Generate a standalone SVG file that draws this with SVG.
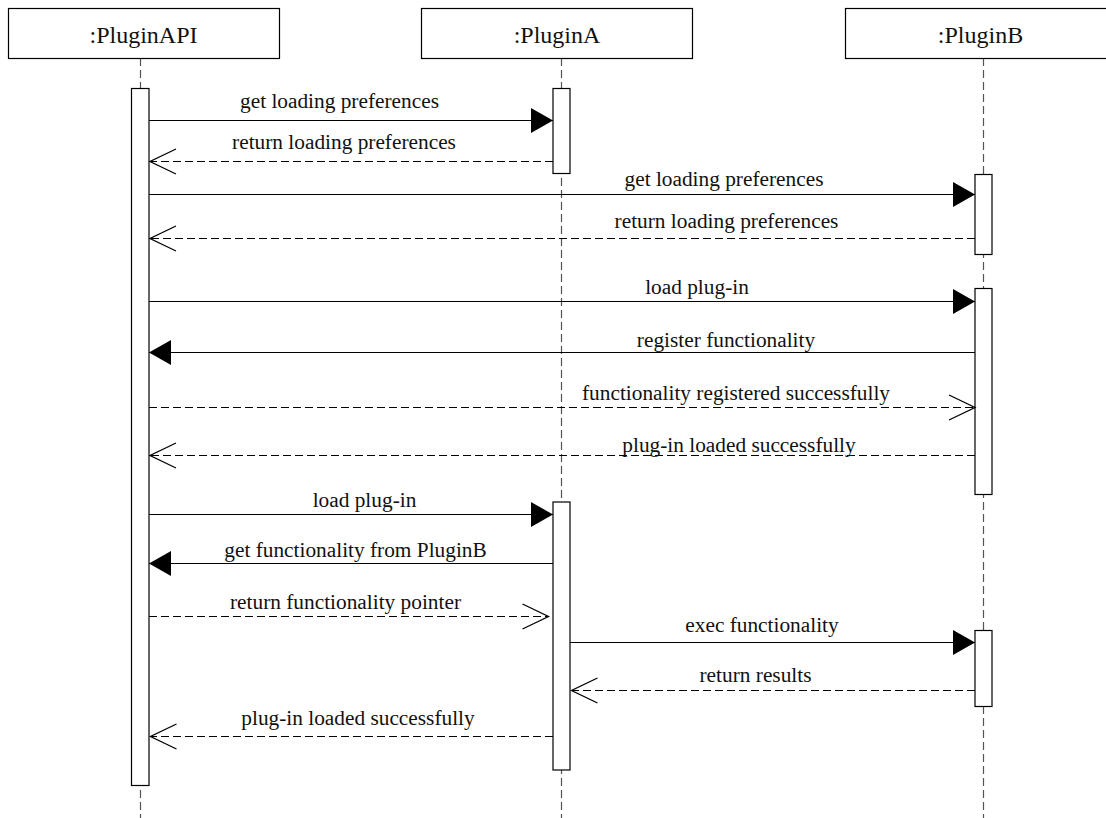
<svg xmlns="http://www.w3.org/2000/svg" width="1106" height="818" viewBox="0 0 1106 818">
<style>
.box{fill:#fff;stroke:#000;stroke-width:1.2}
.life{stroke:#555;stroke-width:1.2;stroke-dasharray:8 4;fill:none}
.bar{fill:#fff;stroke:#000;stroke-width:1.2}
.hdr{font-family:"Liberation Serif","Times New Roman",serif;font-size:24px;fill:#111;text-anchor:middle}
.lbl{font-family:"Liberation Serif","Times New Roman",serif;font-size:21.33px;fill:#111;text-anchor:middle}
.sync{stroke:#000;stroke-width:1.2;fill:none;marker-end:url(#filled)}
.ret{stroke:#000;stroke-width:1.2;fill:none;stroke-dasharray:8 4;marker-end:url(#open)}
</style>
<defs>
<marker id="filled" markerUnits="userSpaceOnUse" markerWidth="24" markerHeight="27" refX="22" refY="12.5" orient="auto" overflow="visible">
<path d="M0,0 L22,12.5 L0,25 Z" fill="#000"/>
</marker>
<marker id="open" markerUnits="userSpaceOnUse" markerWidth="28" markerHeight="27" refX="26" refY="12.5" orient="auto" overflow="visible">
<path d="M0,0 L26,12.5 L0,25" fill="none" stroke="#000" stroke-width="1.3"/>
</marker>
</defs>
<rect width="1106" height="818" fill="#fff"/>
<g id="node-pluginapi">
<line class="life" x1="140.5" y1="58" x2="140.5" y2="818"/>
<rect class="box" x="8.5" y="8.5" width="271" height="50"/>
<text class="hdr" x="143.5" y="43">:PluginAPI</text>
<rect class="bar" x="131.5" y="88.5" width="17.5" height="697"/>
</g>
<g id="node-plugina">
<line class="life" x1="561.5" y1="58" x2="561.5" y2="818"/>
<rect class="box" x="421.5" y="8.5" width="271" height="50"/>
<text class="hdr" x="557" y="43">:PluginA</text>
<rect class="bar" x="553" y="88.5" width="17" height="85"/>
<rect class="bar" x="553" y="502" width="17" height="268"/>
</g>
<g id="node-pluginb">
<line class="life" x1="983.5" y1="58" x2="983.5" y2="818"/>
<rect class="box" x="845.5" y="8.5" width="272" height="50"/>
<text class="hdr" x="980.5" y="43">:PluginB</text>
<rect class="bar" x="975" y="174.5" width="17" height="80"/>
<rect class="bar" x="975" y="288.5" width="17" height="206"/>
<rect class="bar" x="975" y="630.5" width="17" height="76"/>
</g>
<g id="connectors">
<line class="sync" x1="149" y1="120.5" x2="553" y2="120.5"/>
<text class="lbl" x="339.5" y="108">get loading preferences</text>
<line class="ret" x1="553" y1="161.5" x2="150" y2="161.5"/>
<text class="lbl" x="344" y="149">return loading preferences</text>
<line class="sync" x1="149" y1="194.5" x2="975" y2="194.5"/>
<text class="lbl" x="724" y="186">get loading preferences</text>
<line class="ret" x1="975" y1="238.5" x2="150" y2="238.5"/>
<text class="lbl" x="726.5" y="228">return loading preferences</text>
<line class="sync" x1="149" y1="301.5" x2="975" y2="301.5"/>
<text class="lbl" x="697" y="294">load plug-in</text>
<line class="sync" x1="975" y1="352.5" x2="149" y2="352.5"/>
<text class="lbl" x="726" y="347">register functionality</text>
<line class="ret" x1="149" y1="407.5" x2="975" y2="407.5"/>
<text class="lbl" x="736" y="399.5">functionality registered successfully</text>
<line class="ret" x1="975" y1="455.5" x2="150" y2="455.5"/>
<text class="lbl" x="739" y="451.5">plug-in loaded successfully</text>
<line class="sync" x1="149" y1="514.5" x2="553" y2="514.5"/>
<text class="lbl" x="364.5" y="506.5">load plug-in</text>
<line class="sync" x1="553" y1="563.5" x2="149" y2="563.5"/>
<text class="lbl" x="355.5" y="557">get functionality from PluginB</text>
<line class="ret" x1="149" y1="616.5" x2="548.5" y2="616.5"/>
<text class="lbl" x="345.5" y="609">return functionality pointer</text>
<line class="sync" x1="570" y1="642.5" x2="975" y2="642.5"/>
<text class="lbl" x="762" y="631.5">exec functionality</text>
<line class="ret" x1="975" y1="690.5" x2="571.5" y2="690.5"/>
<text class="lbl" x="755.5" y="681.5">return results</text>
<line class="ret" x1="553" y1="736.5" x2="150.5" y2="736.5"/>
<text class="lbl" x="358" y="725">plug-in loaded successfully</text>
</g>
</svg>
